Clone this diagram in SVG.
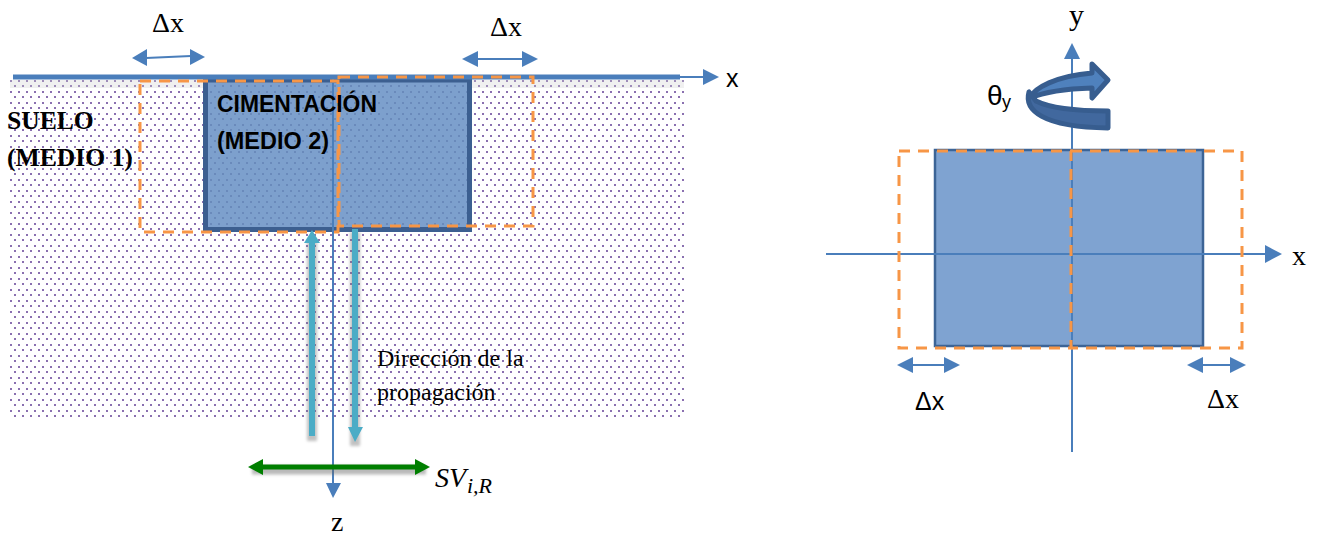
<svg xmlns="http://www.w3.org/2000/svg" width="1317" height="538" viewBox="0 0 1317 538">
<style>
.tnr{font-family:"Liberation Serif",serif;fill:#000}
.ar{font-family:"Liberation Sans",sans-serif;fill:#000}
.cal{font-family:"Liberation Sans",sans-serif;font-weight:700;fill:#000}
.axis{fill:none;stroke:#4a7ebb;stroke-width:2}
.dim{fill:none;stroke:#4a7ebb;stroke-width:2}
.dash{fill:none;stroke:#f79646;stroke-width:3;stroke-dasharray:11 8}
.head{fill:#4a7ebb}
.teal{stroke:#4bacc6;stroke-width:6;fill:none}
.giro{stroke:#375d8f;stroke-width:5;stroke-linejoin:round}
</style>
<defs>
<pattern id="dots" width="16" height="11" patternUnits="userSpaceOnUse" x="10" y="80">
<rect x="0" y="0" width="2" height="2" fill="#8a70b0"/><rect x="8" y="0" width="2" height="2" fill="#8a70b0"/>
<rect x="4" y="5" width="2" height="2" fill="#8a70b0"/><rect x="12" y="5" width="2" height="2" fill="#8a70b0"/>
</pattern>
<pattern id="dots2" width="16" height="11" patternUnits="userSpaceOnUse" x="10" y="80">
<rect x="0" y="0" width="2" height="2" fill="#6a8abb"/><rect x="8" y="0" width="2" height="2" fill="#6a8abb"/>
<rect x="4" y="5" width="2" height="2" fill="#6a8abb"/><rect x="12" y="5" width="2" height="2" fill="#6a8abb"/>
</pattern>
<filter id="sh" x="-20%" y="-20%" width="140%" height="140%"><feGaussianBlur stdDeviation="1.5"/></filter>
</defs>
<g id="suelo"><rect x="10" y="80" width="674" height="338" fill="url(#dots)"/><rect x="10" y="80" width="674" height="8" fill="#ccc" opacity=".3"/></g>
<g id="cimentacion"><rect x="205.500" y="80" width="264" height="149.500" fill="#7da0cd"/><rect x="205.500" y="80" width="264" height="149.500" fill="url(#dots2)"/><rect x="205.500" y="80" width="264" height="149.500" fill="none" stroke="#3c5f90" stroke-width="5"/></g>
<g id="placa"><rect x="935" y="150" width="268" height="196" fill="#7fa3d1" stroke="#3c6496" stroke-width="2.500"/></g>
<g id="connectors">
<path d="M13 77H680" fill="none" stroke="#4a7ebb" stroke-width="5"/>
<path d="M680 77H705" class="axis"/><path d="M703 69L719 77L703 85Z" class="head"/>
<path d="M333 78V485" class="axis"/><path d="M326 483H341L333 498Z" class="head"/>
<path d="M146 58L191 56" class="dim"/><path d="M147 49L132 58L147 66Z M190 49L205 57L190 65Z" class="head"/>
<path d="M476 59H524" class="dim"/><path d="M478 51L462 59L478 67Z M522 51L538 59L522 67Z" class="head"/>
<g filter="url(#sh)" opacity=".45"><path d="M312 240V441M355 232V446" stroke="#777" stroke-width="10" fill="none"/><path d="M252 470H426" stroke="#666" stroke-width="9" fill="none"/></g>
<path d="M312 240V436" class="teal"/><path d="M304 243L312 230L320 243Z" fill="#4bacc6"/>
<path d="M355 229V428" class="teal"/><path d="M348 427H363L355 442Z" fill="#4bacc6"/>
<path d="M258 467H420" fill="none" stroke="#007f00" stroke-width="5"/><path d="M263 459L248 467L263 475Z M415 459L430 467L415 475Z" fill="#007f00"/>
<path d="M826 254H1268" class="axis"/><path d="M1265 245L1282 254L1265 263Z" class="head"/>
<path d="M1072 58V452" class="axis"/><path d="M1064 59L1072 43L1080 59Z" class="head"/>
<path d="M910 365H950" class="dim"/><path d="M913 357L897 365L913 373Z M944 357L960 365L944 373Z" class="head"/>
<path d="M1200 365H1234" class="dim"/><path d="M1203 357L1187 365L1203 373Z M1230 357L1246 365L1230 373Z" class="head"/>
</g>
<g id="cimentacion-desplazada"><rect x="140" y="81" width="198" height="151" class="dash"/><rect x="339" y="77" width="194" height="149" class="dash"/></g>
<g id="placa-desplazada"><rect x="899" y="151" width="172" height="197" class="dash"/><path d="M1071 151H1242V348H1071" class="dash"/></g>
<g id="giro">
<path d="M1030 98C1034 88 1056 76 1092 73V64L1108 80L1092 98V88C1060 89 1042 93 1030 98Z" fill="#4f81bd" class="giro"/>
<path d="M1108 111C1076 111 1050 108 1036 101L1029 92C1024 110 1042 127 1108 128Z" fill="#41689e" class="giro"/>
</g>
<g id="etiquetas">
<text x="152" y="32" class="tnr" font-size="28">Δx</text>
<text x="490" y="36" class="tnr" font-size="28">Δx</text>
<text x="726" y="87" class="ar" font-size="25">x</text>
<text x="7" y="129" class="tnr" font-size="25.600" font-weight="700">SUELO</text>
<text x="7" y="166" class="tnr" font-size="25.600" font-weight="700">(MEDIO 1)</text>
<text x="217" y="112" class="cal" font-size="23" lengthAdjust="spacingAndGlyphs" textLength="160">CIMENTACIÓN</text>
<text x="217" y="149" class="cal" font-size="23" lengthAdjust="spacingAndGlyphs" textLength="112">(MEDIO 2)</text>
<text x="377" y="366" class="tnr" font-size="24">Dirección de la</text>
<text x="377" y="400" class="tnr" font-size="24">propagación</text>
<text x="435" y="487" class="tnr" font-size="28" font-style="italic">SV</text>
<text x="467" y="493" class="tnr" font-size="22" font-style="italic">i,R</text>
<text x="331" y="531" class="tnr" font-size="28">z</text>
<text x="1069" y="25" class="tnr" font-size="30">y</text>
<text x="987" y="105" class="ar" font-size="28">θ</text><text x="1002" y="108" class="ar" font-size="18">y</text>
<text x="1292" y="265" class="tnr" font-size="28">x</text>
<text x="915" y="410" class="ar" font-size="25">Δx</text>
<text x="1207" y="408" class="tnr" font-size="28">Δx</text>
</g>
</svg>
